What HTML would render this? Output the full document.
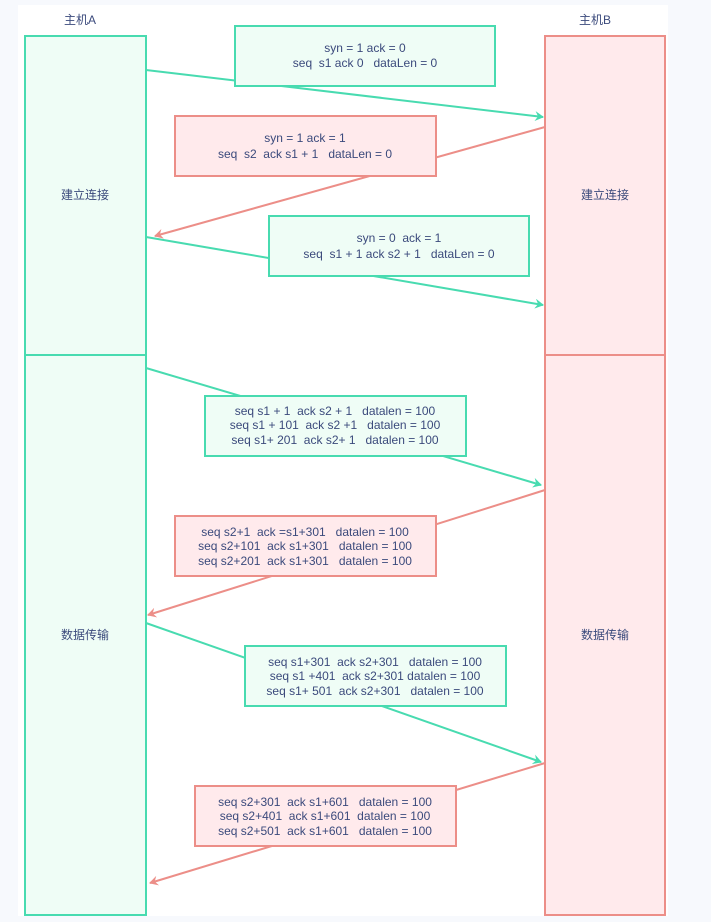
<!DOCTYPE html>
<html><head><meta charset="utf-8"><style>
html,body{margin:0;padding:0;background:#f7f9fd;}
svg{display:block}
text{font-family:"Liberation Sans","Noto Sans CJK SC",sans-serif;font-size:12px;fill:#3b4a7c;white-space:pre;}
</style></head><body>
<svg width="711" height="922" viewBox="0 0 711 922" xmlns="http://www.w3.org/2000/svg">
<defs>
<marker id="ag" markerWidth="10" markerHeight="10" refX="8" refY="5" orient="auto" markerUnits="userSpaceOnUse"><path d="M0,0 L9,5 L0,10 L3,5 Z" fill="#48dbb0"/></marker>
<marker id="ar" markerWidth="10" markerHeight="10" refX="8" refY="5" orient="auto" markerUnits="userSpaceOnUse"><path d="M0,0 L9,5 L0,10 L3,5 Z" fill="#ec8e88"/></marker>
</defs>
<rect x="18" y="5" width="650" height="911" fill="#fff"/>
<text x="80" y="24" text-anchor="middle">主机A</text>
<text x="595" y="24" text-anchor="middle">主机B</text>
<g stroke-width="2">
<rect x="25" y="36" width="121" height="319" fill="#effdf6" stroke="#48dbb0"/>
<rect x="25" y="355" width="121" height="560" fill="#effdf6" stroke="#48dbb0"/>
<rect x="545" y="36" width="120" height="319" fill="#ffeaec" stroke="#ec8e88"/>
<rect x="545" y="355" width="120" height="560" fill="#ffeaec" stroke="#ec8e88"/>
</g>
<text x="85" y="199" text-anchor="middle">建立连接</text>
<text x="605" y="199" text-anchor="middle">建立连接</text>
<text x="85" y="639" text-anchor="middle">数据传输</text>
<text x="605" y="639" text-anchor="middle">数据传输</text>
<g stroke-width="2" fill="none">
<line x1="146" y1="70" x2="543" y2="117" stroke="#48dbb0" marker-end="url(#ag)"/>
<line x1="545" y1="127" x2="155" y2="236" stroke="#ec8e88" marker-end="url(#ar)"/>
<line x1="146" y1="237" x2="543" y2="305" stroke="#48dbb0" marker-end="url(#ag)"/>
<line x1="146" y1="368" x2="541" y2="485" stroke="#48dbb0" marker-end="url(#ag)"/>
<line x1="545" y1="490" x2="148" y2="615" stroke="#ec8e88" marker-end="url(#ar)"/>
<line x1="146" y1="623" x2="541" y2="762" stroke="#48dbb0" marker-end="url(#ag)"/>
<line x1="545" y1="763" x2="150" y2="883" stroke="#ec8e88" marker-end="url(#ar)"/>
</g>
<g stroke-width="2">
<rect x="235" y="26" width="260" height="60" fill="#effdf6" stroke="#48dbb0"/>
<rect x="175" y="116" width="261" height="60" fill="#ffeaec" stroke="#ec8e88"/>
<rect x="269" y="216" width="260" height="60" fill="#effdf6" stroke="#48dbb0"/>
<rect x="205" y="396" width="261" height="60" fill="#effdf6" stroke="#48dbb0"/>
<rect x="175" y="516" width="261" height="60" fill="#ffeaec" stroke="#ec8e88"/>
<rect x="245" y="646" width="261" height="60" fill="#effdf6" stroke="#48dbb0"/>
<rect x="195" y="786" width="261" height="60" fill="#ffeaec" stroke="#ec8e88"/>
</g>
<g text-anchor="middle">
<text x="365" y="52">syn = 1 ack = 0</text>
<text x="365" y="67">seq  s1 ack 0   dataLen = 0</text>
<text x="305" y="142">syn = 1 ack = 1</text>
<text x="305" y="158">seq  s2  ack s1 + 1   dataLen = 0</text>
<text x="399" y="242">syn = 0  ack = 1</text>
<text x="399" y="258">seq  s1 + 1 ack s2 + 1   dataLen = 0</text>
<text x="335" y="415">seq s1 + 1  ack s2 + 1   datalen = 100</text>
<text x="335" y="429">seq s1 + 101  ack s2 +1   datalen = 100</text>
<text x="335" y="444">seq s1+ 201  ack s2+ 1   datalen = 100</text>
<text x="305" y="536">seq s2+1  ack =s1+301   datalen = 100</text>
<text x="305" y="550">seq s2+101  ack s1+301   datalen = 100</text>
<text x="305" y="565">seq s2+201  ack s1+301   datalen = 100</text>
<text x="375" y="666">seq s1+301  ack s2+301   datalen = 100</text>
<text x="375" y="680">seq s1 +401  ack s2+301 datalen = 100</text>
<text x="375" y="695">seq s1+ 501  ack s2+301   datalen = 100</text>
<text x="325" y="806">seq s2+301  ack s1+601   datalen = 100</text>
<text x="325" y="820">seq s2+401  ack s1+601  datalen = 100</text>
<text x="325" y="835">seq s2+501  ack s1+601   datalen = 100</text>
</g>
</svg>
</body></html>
